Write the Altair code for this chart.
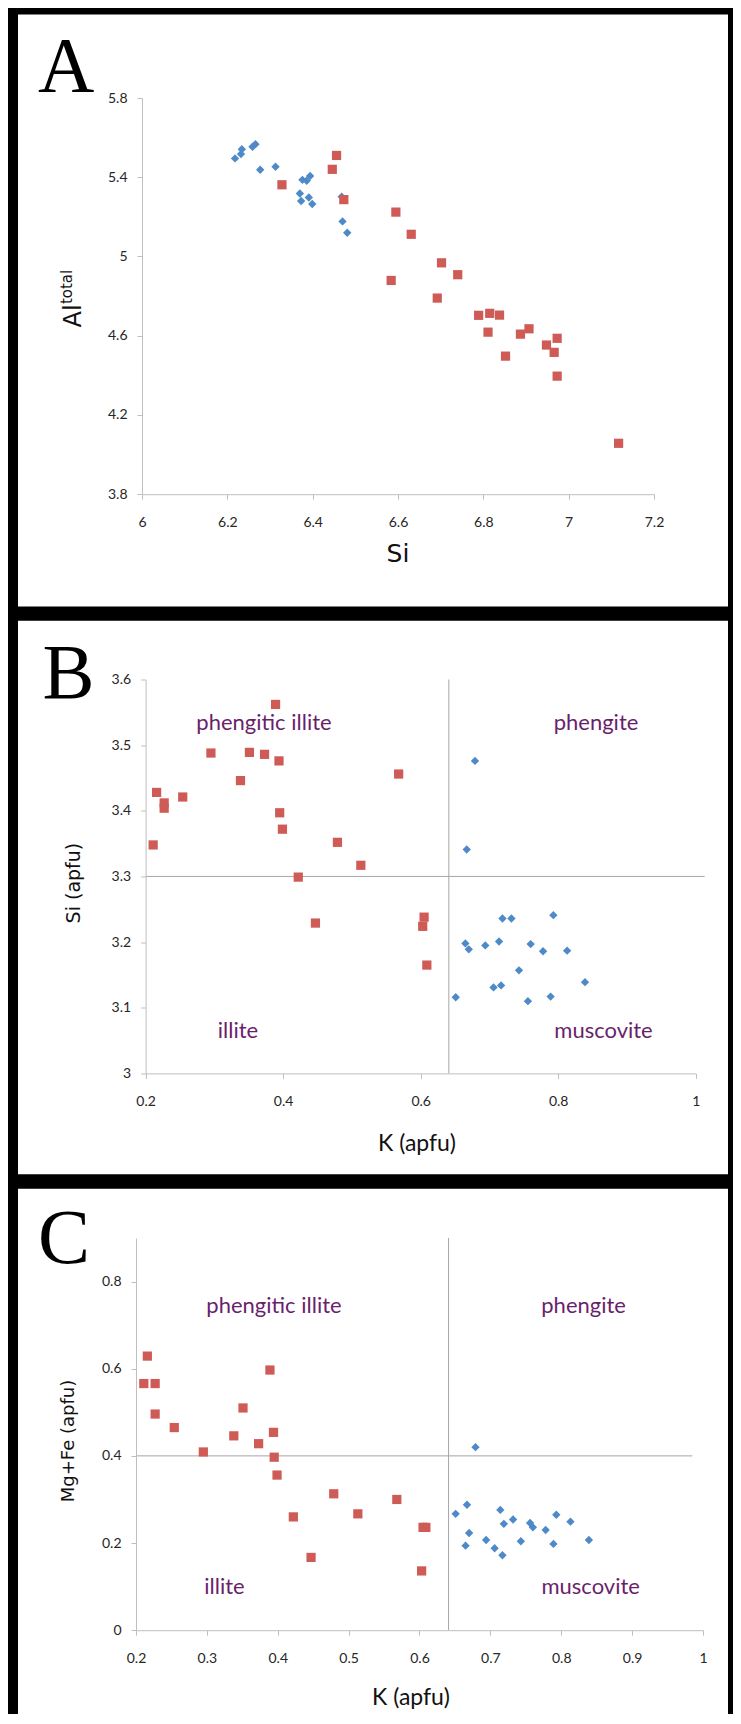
import altair as alt
import pandas as pd

# ---------------- data ----------------
# Panel A: Al(total) vs Si
A_MUS_SI = [6.218, 6.232, 6.234, 6.259, 6.266, 6.277, 6.313, 6.376, 6.386, 6.394,
            6.370, 6.373, 6.391, 6.399, 6.468, 6.470, 6.481]
A_MUS_AL = [5.495, 5.517, 5.541, 5.554, 5.567, 5.438, 5.453, 5.387, 5.382, 5.406,
            5.318, 5.280, 5.298, 5.265, 5.302, 5.177, 5.120]
A_ILL_SI = [6.328, 6.456, 6.446, 6.473, 6.595, 6.631, 6.584, 6.702, 6.740, 6.692, 6.789,
            6.815, 6.838, 6.811, 6.852, 6.887, 6.907, 6.948, 6.973, 6.966, 6.973, 7.117]
A_ILL_AL = [5.362, 5.510, 5.440, 5.287, 5.224, 5.112, 4.879, 4.968, 4.908, 4.790, 4.703,
            4.713, 4.704, 4.618, 4.497, 4.608, 4.635, 4.553, 4.587, 4.516, 4.396, 4.057]

# Panels B and C: K (apfu) vs Si (apfu) and vs Mg+Fe (apfu)
MUS_K = [0.651, 0.665, 0.667, 0.670, 0.679, 0.694, 0.706, 0.714, 0.717, 0.719,
         0.732, 0.743, 0.756, 0.760, 0.778, 0.789, 0.793, 0.813, 0.839]
MUS_SI = [3.116, 3.198, 3.341, 3.189, 3.476, 3.195, 3.131, 3.201, 3.134, 3.236,
          3.236, 3.157, 3.110, 3.197, 3.186, 3.117, 3.241, 3.187, 3.139]
MUS_MGFE = [0.267, 0.194, 0.288, 0.223, 0.420, 0.207, 0.188, 0.276, 0.172, 0.244,
            0.254, 0.204, 0.246, 0.236, 0.230, 0.198, 0.265, 0.249, 0.207]

ILL_K = [0.211, 0.216, 0.227, 0.227, 0.254, 0.295, 0.338, 0.351, 0.373, 0.389, 0.394,
         0.395, 0.399, 0.422, 0.447, 0.479, 0.513, 0.568, 0.603, 0.605, 0.609]
ILL_SI = [3.348, 3.428, 3.404, 3.412, 3.421, 3.488, 3.446, 3.489, 3.486, 3.562, 3.476,
          3.397, 3.372, 3.299, 3.229, 3.352, 3.317, 3.456, 3.224, 3.238, 3.165]
ILL_MGFE = [0.566, 0.629, 0.566, 0.496, 0.465, 0.409, 0.446, 0.510, 0.428, 0.597, 0.454,
            0.397, 0.356, 0.260, 0.167, 0.313, 0.267, 0.300, 0.136, 0.236, 0.236]

# tick values
A_X_TICKS = [6, 6.2, 6.4, 6.6, 6.8, 7, 7.2]
A_Y_TICKS = [3.8, 4.2, 4.6, 5, 5.4, 5.8]
B_X_TICKS = [0.2, 0.4, 0.6, 0.8, 1]
B_Y_TICKS = [3, 3.1, 3.2, 3.3, 3.4, 3.5, 3.6]
C_X_TICKS = [0.2, 0.3, 0.4, 0.5, 0.6, 0.7, 0.8, 0.9, 1]
C_Y_TICKS = [0, 0.2, 0.4, 0.6, 0.8]

# field boundaries
K_LIMIT = 0.641
SI_LIMIT = 3.3
MGFE_LIMIT = 0.4

# ---------------- style ----------------
BLUE = "#4F8AC8"
RED = "#CF5B57"
PURPLE = "#6A1F6C"
AXIS_GRAY = "#BFBFBF"
LINE_GRAY = "#A6A6A6"
W = 567


def axis(values, pad, offset=0):
    kw = dict(values=values, format="~g", title=None, grid=False, domainColor=AXIS_GRAY,
              tickColor=AXIS_GRAY, tickSize=5, labelFont="Lato", labelFontSize=14,
              labelColor="#262626", labelPadding=pad, labelFlush=False,
              labelOverlap=False, zindex=1)
    if offset:
        kw["offset"] = offset
    return alt.Axis(**kw)


class Enc:
    """Shared x/y scale+axis so every layer uses the same scale."""

    def __init__(self, sx, ax, sy, ay):
        self.sx, self.ax, self.sy, self.ay = sx, ax, sy, ay

    def X(self):
        return alt.X("x:Q", scale=self.sx, axis=self.ax)

    def Y(self):
        return alt.Y("y:Q", scale=self.sy, axis=self.ay)

    def XD(self, v):
        return alt.XDatum(v, type="quantitative", scale=self.sx, axis=self.ax)

    def YD(self, v):
        return alt.YDatum(v, type="quantitative", scale=self.sy, axis=self.ay)


def one(s):
    return alt.Chart(pd.DataFrame({"t": [s]}))


def txt(s, x, y, size, font, color="black", align="center", baseline="alphabetic", angle=0):
    kw = dict(text=s, font=font, fontSize=size, color=color, align=align, baseline=baseline)
    if angle:
        kw["angle"] = angle
    return one(s).mark_text(**kw).encode(x=alt.value(x), y=alt.value(y))


def panel_bg(y1, y2):
    return one("bg").mark_rect(color="white").encode(
        x=alt.value(-118), x2=alt.value(592), y=alt.value(y1), y2=alt.value(y2))


def points(xs_m, ys_m, xs_i, ys_i, enc):
    df = pd.DataFrame({
        "x": xs_m + xs_i,
        "y": ys_m + ys_i,
        "g": ["m"] * len(xs_m) + ["i"] * len(xs_i),
    })
    base = alt.Chart(df).encode(x=enc.X(), y=enc.Y())
    mus = base.transform_filter(alt.datum.g == "m").mark_point(
        shape="diamond", filled=True, size=70, color=BLUE, opacity=1, strokeWidth=0)
    ill = base.transform_filter(alt.datum.g == "i").mark_square(
        size=85, color=RED, opacity=1)
    return mus, ill


def vrule(enc, xv, y1, y2):
    return one("v").mark_rule(color=LINE_GRAY, strokeWidth=1).encode(
        x=enc.XD(xv), y=enc.YD(y1), y2=alt.datum(y2))


def hrule(enc, yv, x1, x2):
    return one("h").mark_rule(color=LINE_GRAY, strokeWidth=1).encode(
        y=enc.YD(yv), x=enc.XD(x1), x2=alt.datum(x2))


# ---------------- panel A ----------------
encA = Enc(alt.Scale(domain=[6, 7.2], range=[6, 518], zero=False), axis(A_X_TICKS, 16),
           alt.Scale(domain=[3.8, 5.8], zero=False), axis(A_Y_TICKS, 10, offset=-6))
musA, illA = points(A_MUS_SI, A_MUS_AL, A_ILL_SI, A_ILL_AL, encA)
panelA = alt.layer(
    panel_bg(-83.6, 508.4),
    musA, illA,
    txt("A", -98, -6.6, 78, "Liberation Serif", align="left"),
    txt("Al", -55.5, 229.4, 24, "DejaVu Sans", color="#111", align="left", angle=270),
    txt("total", -63.7, 206.1, 15, "DejaVu Sans", color="#111", align="left", angle=270),
    txt("Si", 262, 456.4, 25, "DejaVu Sans", color="#111", baseline="middle"),
).properties(width=W, height=396.2)

# ---------------- panel B ----------------
encB = Enc(alt.Scale(domain=[0.2, 1], range=[9.6, 559.7], zero=False), axis(B_X_TICKS, 16),
           alt.Scale(domain=[3, 3.6], zero=False), axis(B_Y_TICKS, 10, offset=-9.6))
musB, illB = points(MUS_K, MUS_SI, ILL_K, ILL_SI, encB)
panelB = alt.layer(
    panel_bg(-58.8, 494.7),
    vrule(encB, K_LIMIT, 3.0, 3.6),
    hrule(encB, SI_LIMIT, 0.2, 1.013),
    musB, illB,
    txt("B", -93.5, 18.2, 78, "Liberation Serif", align="left"),
    txt("phengitic illite", 128, 50.8, 22, "Lato", color=PURPLE),
    txt("phengite", 460, 50.8, 22, "Lato", color=PURPLE),
    txt("illite", 102, 358.9, 22, "Lato", color=PURPLE),
    txt("muscovite", 467.5, 358.9, 22, "Lato", color=PURPLE),
    txt("Si (apfu)", -56.5, 203.6, 19, "DejaVu Sans", color="#111", angle=270),
    txt("K (apfu)", 281, 464.2, 23, "Lato", color="#111", baseline="middle"),
).properties(width=W, height=393.9)

# ---------------- panel C ----------------
encC = Enc(alt.Scale(domain=[0.2, 1], zero=False), axis(C_X_TICKS, 16),
           alt.Scale(domain=[0, 0.9], zero=False), axis(C_Y_TICKS, 10))
musC, illC = points(MUS_K, MUS_MGFE, ILL_K, ILL_MGFE, encC)
panelC = alt.layer(
    panel_bg(-49.2, 476),
    vrule(encC, K_LIMIT, 0.0, 0.9),
    hrule(encC, MGFE_LIMIT, 0.2, 0.985),
    musC, illC,
    txt("C", -98, 24.8, 78, "Liberation Serif", align="left"),
    txt("phengitic illite", 138, 74.8, 22, "Lato", color=PURPLE),
    txt("phengite", 447.6, 74.8, 22, "Lato", color=PURPLE),
    txt("illite", 88.5, 356.3, 22, "Lato", color=PURPLE),
    txt("muscovite", 454.7, 356.3, 22, "Lato", color=PURPLE),
    txt("Mg+Fe (apfu)", -62, 203, 18, "DejaVu Sans", color="#111", angle=270),
    txt("K (apfu)", 275, 460, 23, "Lato", color="#111", baseline="middle"),
).properties(width=W, height=392.2)

chart = alt.vconcat(panelA, panelB, panelC, spacing=13.5).resolve_scale(
    x="independent", y="independent"
).properties(
    background="black",
    padding={"left": 10, "top": 6, "right": 5, "bottom": 0},
).configure_view(strokeWidth=0)

chart.save("out.html", embed_options={"renderer": "svg", "actions": False})
